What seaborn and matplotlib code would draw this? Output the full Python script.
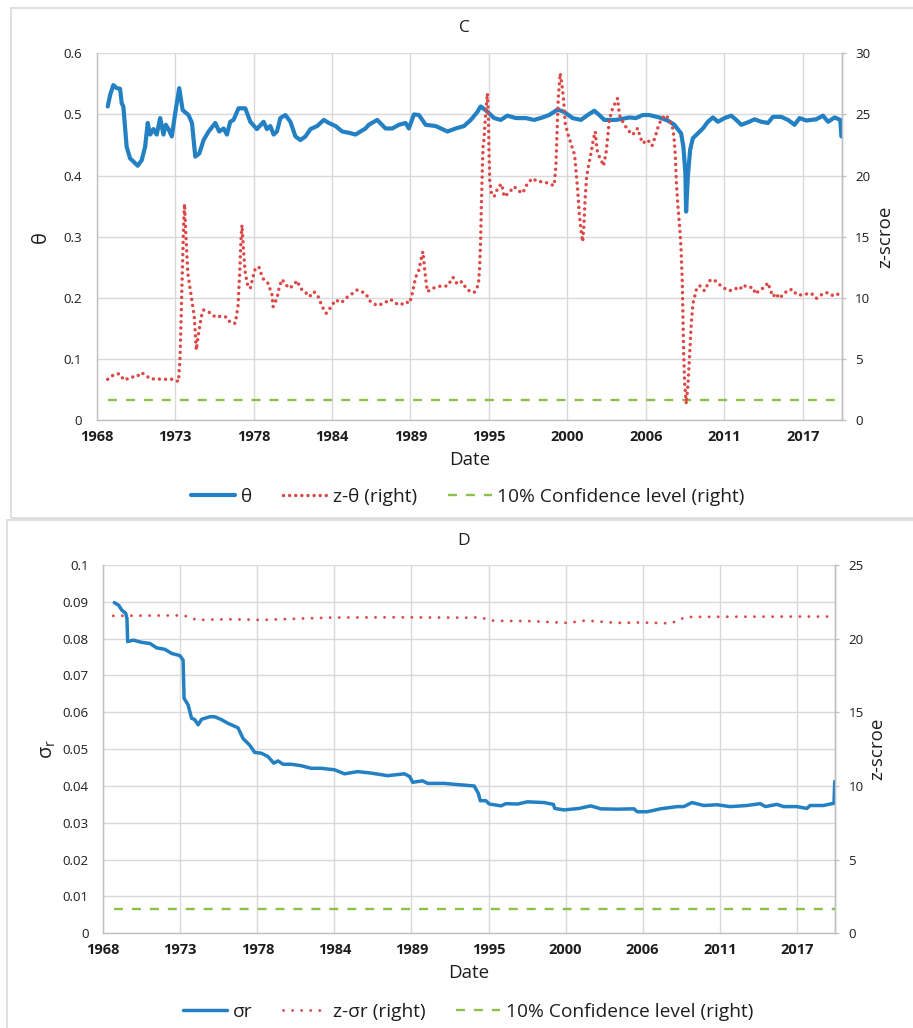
import numpy as np
import pandas as pd
import matplotlib
matplotlib.use("Agg")
import matplotlib.pyplot as plt
from matplotlib.patches import Rectangle
import seaborn as sns

# ---------------- data (decimal years) ----------------
theta_year = [1968.77, 1968.94, 1969.16, 1969.40, 1969.63, 1969.75, 1969.86, 1970.09, 1970.33, 1970.56,
              1970.86, 1971.14, 1971.38, 1971.56, 1971.73, 1971.96, 1972.19, 1972.43, 1972.66, 1972.82,
              1973.01, 1973.24, 1973.48, 1973.76, 1974.00, 1974.41, 1974.65, 1974.88, 1975.16, 1975.46,
              1975.81, 1976.28, 1976.55, 1976.86, 1977.09, 1977.32, 1977.55, 1977.90, 1978.37, 1978.72,
              1979.18, 1979.65, 1979.88, 1980.12, 1980.35, 1980.58, 1980.82, 1981.17, 1981.52, 1981.87,
              1982.22, 1982.57, 1982.92, 1983.39, 1983.85, 1984.20, 1984.67, 1985.14, 1985.60, 1986.06,
              1986.76, 1986.99, 1987.58, 1988.16, 1988.63, 1989.09, 1989.56, 1989.79, 1990.14, 1990.49,
              1990.96, 1991.66, 1992.48, 1993.06, 1993.64, 1994.11, 1994.57, 1994.80, 1995.15, 1995.74,
              1996.20, 1996.67, 1997.25, 1997.95, 1998.53, 1999.12, 1999.58, 2000.17, 2000.63, 2001.22,
              2001.80, 2002.27, 2002.73, 2003.08, 2003.43, 2004.25, 2005.18, 2005.64, 2006.11, 2006.57,
              2007.27, 2007.86, 2008.32, 2008.79, 2008.95, 2009.09, 2009.14, 2009.26, 2009.42, 2009.61,
              2009.96, 2010.31, 2010.66, 2011.01, 2011.36, 2011.82, 2012.29, 2012.64, 2012.99, 2013.45,
              2013.92, 2014.38, 2014.85, 2015.20, 2015.78, 2016.25, 2016.71, 2017.06, 2017.53, 2018.22,
              2018.69, 2019.05, 2019.51, 2019.90, 2019.98]
theta_val = [0.513, 0.532, 0.548, 0.543, 0.542, 0.518, 0.513, 0.447, 0.428, 0.423,
             0.416, 0.425, 0.447, 0.486, 0.467, 0.476, 0.467, 0.494, 0.467, 0.483,
             0.476, 0.464, 0.502, 0.543, 0.507, 0.499, 0.486, 0.431, 0.436, 0.458,
             0.472, 0.486, 0.472, 0.477, 0.467, 0.488, 0.491, 0.510, 0.510, 0.488,
             0.476, 0.488, 0.476, 0.481, 0.467, 0.472, 0.494, 0.499, 0.488, 0.464,
             0.458, 0.464, 0.476, 0.481, 0.491, 0.486, 0.481, 0.472, 0.470, 0.467,
             0.477, 0.483, 0.491, 0.477, 0.477, 0.483, 0.486, 0.477, 0.500, 0.499,
             0.483, 0.481, 0.472, 0.477, 0.481, 0.491, 0.504, 0.513, 0.507, 0.494,
             0.491, 0.498, 0.494, 0.494, 0.491, 0.495, 0.499, 0.508, 0.504, 0.494,
             0.491, 0.499, 0.506, 0.499, 0.491, 0.491, 0.495, 0.494, 0.499, 0.499,
             0.495, 0.490, 0.483, 0.469, 0.447, 0.404, 0.341, 0.398, 0.442, 0.461,
             0.469, 0.477, 0.488, 0.495, 0.488, 0.494, 0.498, 0.491, 0.483, 0.487,
             0.492, 0.488, 0.486, 0.496, 0.496, 0.491, 0.483, 0.494, 0.490, 0.492,
             0.498, 0.488, 0.495, 0.491, 0.464]

ztheta_year = [1968.77, 1969.16, 1969.56, 1969.93, 1970.40, 1970.79, 1971.10, 1971.42, 1971.73, 1972.19,
               1972.66, 1973.36, 1973.71, 1973.82, 1973.94, 1974.06, 1974.13, 1974.22, 1974.36, 1974.60,
               1974.81, 1974.95, 1975.11, 1975.30, 1975.46, 1976.00, 1976.28, 1976.74, 1977.09, 1977.32,
               1977.67, 1977.86, 1977.98, 1978.07, 1978.14, 1978.26, 1978.37, 1978.56, 1978.72, 1979.03,
               1979.31, 1979.59, 1979.96, 1980.24, 1980.31, 1980.58, 1980.75, 1980.94, 1981.21, 1981.45,
               1981.75, 1981.99, 1982.22, 1982.53, 1982.85, 1983.16, 1983.46, 1983.74, 1984.02, 1984.20,
               1984.44, 1984.67, 1985.09, 1985.37, 1985.71, 1986.18, 1986.76, 1987.11, 1987.58, 1988.04,
               1988.51, 1988.86, 1989.21, 1989.56, 1989.84, 1990.03, 1990.26, 1990.49, 1990.68, 1990.77,
               1990.87, 1990.96, 1991.08, 1991.43, 1992.01, 1992.48, 1992.87, 1993.17, 1993.48, 1993.87,
               1994.34, 1994.64, 1994.73, 1994.80, 1994.85, 1994.92, 1994.97, 1995.03, 1995.15, 1995.27,
               1995.34, 1995.39, 1995.43, 1995.55, 1995.74, 1996.04, 1996.27, 1996.44, 1996.74, 1997.14,
               1997.37, 1997.72, 1998.07, 1998.42, 1998.77, 1999.23, 1999.58, 1999.93, 2000.05, 2000.13,
               2000.21, 2000.35, 2000.46, 2000.59, 2000.70, 2000.87, 2001.17, 2001.36, 2001.45, 2001.57,
               2001.68, 2001.80, 2001.92, 2002.00, 2002.10, 2002.20, 2002.34, 2002.50, 2002.66, 2002.80,
               2002.92, 2003.08, 2003.21, 2003.37, 2003.55, 2003.67, 2003.78, 2004.01, 2004.25, 2004.36,
               2004.48, 2004.71, 2005.06, 2005.41, 2005.76, 2005.92, 2006.11, 2006.46, 2006.76, 2006.99,
               2007.23, 2007.46, 2007.74, 2007.93, 2008.16, 2008.29, 2008.39, 2008.45, 2008.57, 2008.67,
               2008.78, 2008.87, 2008.92, 2008.97, 2009.04, 2009.15, 2009.26, 2009.38, 2009.50, 2009.62,
               2009.85, 2010.08, 2010.42, 2010.78, 2011.06, 2011.50, 2011.82, 2012.17, 2012.59, 2012.87,
               2013.10, 2013.45, 2013.80, 2013.99, 2014.27, 2014.62, 2014.85, 2015.01, 2015.20, 2015.43,
               2015.62, 2015.90, 2016.25, 2016.60, 2016.83, 2017.18, 2017.48, 2017.88, 2018.22, 2018.45,
               2018.69, 2019.04, 2019.44, 2019.75, 2019.98]
ztheta_val = [3.33, 3.68, 3.79, 3.25, 3.52, 3.52, 3.88, 3.68, 3.36, 3.36,
              3.33, 3.33, 3.14, 5.18, 10.37, 15.82, 17.68, 15.28, 12.00, 10.09,
              8.46, 5.73, 7.09, 8.46, 9.00, 8.73, 8.40, 8.51, 8.40, 7.97,
              7.91, 9.27, 12.00, 14.73, 15.96, 13.64, 12.00, 10.91, 10.77, 12.27,
              12.55, 11.59, 11.18, 10.23, 9.27, 9.95, 10.91, 11.50, 11.05, 10.77,
              11.05, 11.40, 10.77, 10.50, 10.09, 10.50, 10.09, 9.27, 8.73, 9.00,
              9.41, 9.82, 9.60, 9.95, 10.23, 10.64, 10.37, 9.68, 9.36, 9.55,
              9.87, 9.55, 9.41, 9.68, 9.55, 10.37, 11.67, 12.27, 13.37, 13.78,
              12.55, 11.59, 10.50, 10.77, 10.96, 10.96, 11.67, 11.12, 11.32, 10.64,
              10.42, 11.05, 12.55, 14.73, 17.46, 20.73, 22.37, 22.92, 25.10, 26.73,
              24.83, 21.55, 19.64, 18.55, 18.27, 19.09, 19.31, 18.27, 18.55, 19.09,
              18.82, 18.55, 19.36, 19.77, 19.50, 19.50, 19.31, 19.18, 20.73, 23.46,
              26.19, 28.37, 27.55, 26.19, 24.29, 23.46, 22.37, 21.68, 20.46, 18.82,
              16.91, 15.55, 14.59, 15.82, 18.27, 19.91, 20.87, 21.82, 22.92, 23.60,
              22.10, 21.55, 21.27, 20.79, 21.82, 23.19, 24.56, 25.50, 26.05, 26.32,
              24.96, 24.42, 23.74, 23.33, 23.87, 23.19, 22.64, 22.92, 22.43, 23.19,
              24.15, 24.69, 24.96, 24.56, 24.15, 23.19, 21.55, 19.64, 17.46, 16.09,
              14.18, 11.46, 8.46, 5.46, 3.00, 1.31, 2.73, 5.18, 7.91, 9.55,
              10.64, 11.00, 10.57, 11.40, 11.50, 11.05, 10.77, 10.57, 10.77, 10.64,
              11.05, 10.85, 10.85, 10.30, 10.64, 10.85, 11.23, 10.68, 10.09, 10.37,
              9.95, 10.23, 10.64, 10.68, 10.27, 10.23, 10.30, 10.37, 9.95, 10.09,
              10.37, 10.42, 10.14, 10.30, 10.57]

sigma_year = [1968.78, 1969.11, 1969.30, 1969.59, 1969.68, 1969.73, 1970.13, 1970.72, 1971.31, 1971.79,
              1972.38, 1972.85, 1973.44, 1973.67, 1973.74, 1974.03, 1974.27, 1974.50, 1974.74, 1974.98,
              1975.57, 1975.92, 1976.40, 1976.87, 1977.57, 1977.93, 1978.40, 1978.76, 1979.23, 1979.70,
              1980.11, 1980.42, 1980.77, 1981.36, 1982.07, 1982.78, 1983.49, 1984.43, 1985.14, 1986.08,
              1987.03, 1988.21, 1989.40, 1989.76, 1989.99, 1990.70, 1991.05, 1992.23, 1993.42, 1994.36,
              1994.65, 1994.79, 1995.19, 1995.43, 1996.26, 1996.61, 1997.44, 1998.14, 1999.33, 1999.99,
              2000.08, 2000.75, 2001.81, 2002.64, 2003.35, 2004.53, 2005.71, 2005.95, 2006.65, 2007.60,
              2008.78, 2009.25, 2009.84, 2010.67, 2011.61, 2012.56, 2013.74, 2014.69, 2015.05, 2015.87,
              2016.35, 2017.29, 2018.00, 2018.23, 2019.18, 2019.66, 2019.93, 2019.98]
sigma_val = [0.0898, 0.0890, 0.0878, 0.0869, 0.0855, 0.0792, 0.0796, 0.0790, 0.0787, 0.0775,
             0.0771, 0.0760, 0.0754, 0.0742, 0.0638, 0.0620, 0.0584, 0.0580, 0.0566, 0.0581,
             0.0588, 0.0588, 0.0580, 0.0570, 0.0558, 0.0529, 0.0511, 0.0491, 0.0489, 0.0480,
             0.0462, 0.0468, 0.0459, 0.0459, 0.0455, 0.0448, 0.0448, 0.0444, 0.0433, 0.0439,
             0.0435, 0.0428, 0.0433, 0.0426, 0.0410, 0.0414, 0.0407, 0.0407, 0.0403, 0.0400,
             0.0380, 0.0360, 0.0360, 0.0351, 0.0346, 0.0352, 0.0351, 0.0357, 0.0355, 0.0350,
             0.0339, 0.0335, 0.0339, 0.0346, 0.0338, 0.0337, 0.0338, 0.0330, 0.0330, 0.0338,
             0.0344, 0.0344, 0.0355, 0.0347, 0.0349, 0.0344, 0.0347, 0.0352, 0.0344, 0.0350,
             0.0344, 0.0344, 0.0339, 0.0347, 0.0347, 0.0351, 0.0353, 0.0412]

zsigma_year = [1968.71, 1973.67, 1974.15, 1974.62, 1976.87, 1979.23, 1981.60, 1984.20, 1988.69, 1994.13,
               1994.60, 1995.19, 1995.78, 1998.38, 2000.98, 2002.28, 2004.52, 2006.18, 2008.31, 2008.78,
               2009.37, 2012.57, 2017.29, 2019.98]
zsigma_val = [21.55, 21.58, 21.45, 21.27, 21.32, 21.27, 21.35, 21.43, 21.45, 21.42,
              21.45, 21.35, 21.21, 21.19, 21.07, 21.23, 21.07, 21.10, 21.04, 21.20,
              21.47, 21.49, 21.50, 21.50]

conf_year = [1968.77, 2019.98]
conf_val = [1.645, 1.645]

x_tick_labels = ["1968", "1973", "1978", "1984", "1989", "1995", "2000", "2006", "2011", "2017"]
theta_ticks = [0, 0.1, 0.2, 0.3, 0.4, 0.5, 0.6]
theta_tick_labels = ["0", "0.1", "0.2", "0.3", "0.4", "0.5", "0.6"]
sigma_ticks = [0, 0.01, 0.02, 0.03, 0.04, 0.05, 0.06, 0.07, 0.08, 0.09, 0.1]
sigma_tick_labels = ["0", "0.01", "0.02", "0.03", "0.04", "0.05", "0.06", "0.07", "0.08", "0.09", "0.1"]
zC_ticks = [0, 5, 10, 15, 20, 25, 30]
zD_ticks = [0, 5, 10, 15, 20, 25]

# ---------------- style ----------------
sns.set_theme(style="white")
plt.rcParams['font.family'] = ['Open Sans', 'DejaVu Sans']
plt.rcParams['mathtext.fontset'] = 'custom'
plt.rcParams['mathtext.rm'] = 'Open Sans'
plt.rcParams['mathtext.it'] = 'Open Sans'

BLUE = "#2380C3"
RED = "#DC4848"
GREEN = "#8DC04B"
GRID = "#D9D9D9"
SPINE = "#BFBFBF"
TXT = "#1E1E1E"

W, H = 913, 1028
fig = plt.figure(figsize=(W / 100, H / 100), dpi=100)

# panel frames
fig.patches.append(Rectangle((11 / W, 1 - 518 / H), 1.0, 510 / H, transform=fig.transFigure,
                             fill=False, edgecolor=GRID, lw=1.2))
fig.patches.append(Rectangle((7 / W, -0.01), 1.0, 1 - 520 / H + 0.01, transform=fig.transFigure,
                             fill=False, edgecolor=GRID, lw=1.2))

x0 = 1968.0
step = 2000 / 365.25
xticks = [x0 + i * step for i in range(len(x_tick_labels))]
xlim = (1968.0, 2020.0)


def make_panel(px_left, px_right, px_top, px_bottom, main_x, main_y, main_lim, main_ticks, main_labels,
               z_x, z_y, z_lim, z_ticks, main_lw, dot_lw, dot_gap, main_label, title, title_y,
               legend_labels, legend_y):
    ax = fig.add_axes([px_left / W, 1 - px_bottom / H, (px_right - px_left) / W, (px_bottom - px_top) / H])
    axr = ax.twinx()

    sns.lineplot(x=main_x, y=main_y, ax=ax, color=BLUE, linewidth=main_lw, legend=False,
                 solid_joinstyle='round', solid_capstyle='round', zorder=3)
    sns.lineplot(x=z_x, y=z_y, ax=axr, color=RED, linewidth=dot_lw, legend=False,
                 linestyle=(0, (0.01, dot_gap)), dash_capstyle='round', zorder=3)
    sns.lineplot(x=conf_year, y=conf_val, ax=axr, color=GREEN, linewidth=1.7, legend=False,
                 linestyle=(0, (3.8, 3.8)), zorder=2)

    ax.set_xlim(*xlim)
    axr.set_xlim(*xlim)
    ax.set_ylim(*main_lim)
    axr.set_ylim(*z_lim)
    ax.set_xticks(xticks)
    ax.set_xticklabels(x_tick_labels, fontsize=10.5, fontweight='bold', color=TXT)
    ax.set_yticks(main_ticks)
    ax.set_yticklabels(main_labels, fontsize=9.6, color=TXT)
    axr.set_yticks(z_ticks)
    axr.set_yticklabels([str(t) for t in z_ticks], fontsize=9.6, color=TXT)

    ax.grid(True, color=GRID, linewidth=1.0)
    ax.set_axisbelow(True)
    ax.tick_params(axis='x', length=0, pad=7)
    ax.tick_params(axis='y', length=0, pad=10.5)
    axr.tick_params(axis='y', length=3.2, width=0.9, color=SPINE, pad=6.5, direction='out', right=True)

    for a in (ax, axr):
        a.spines['top'].set_visible(False)
        for s in ('left', 'bottom', 'right'):
            a.spines[s].set_color(SPINE)
            a.spines[s].set_linewidth(1.0)
    axr.spines['left'].set_visible(False)
    axr.spines['bottom'].set_visible(False)

    ax.set_xlabel("Date", fontsize=13.5, color=TXT)
    ax.xaxis.set_label_coords(0.5, -0.108)
    ax.xaxis.label.set_va('center')
    ax.set_ylabel(main_label, fontsize=14.5, color=TXT, rotation=90)
    ax.yaxis.set_label_coords(-0.075, 0.5)
    ax.yaxis.label.set_va('center')
    axr.set_ylabel("z-scroe", fontsize=13.5, color=TXT, rotation=90)
    axr.yaxis.set_label_coords(1.058, 0.5)
    axr.yaxis.label.set_va('center')

    fig.text(464 / W, 1 - title_y / H, title, ha='center', va='center', fontsize=12.5, color=TXT)

    handles = [ax.lines[0], axr.lines[0], axr.lines[1]]
    fig.legend(handles, legend_labels, loc='center', bbox_to_anchor=(468 / W, 1 - legend_y / H),
               ncol=3, frameon=False, fontsize=13.8, handlelength=2.3, handletextpad=0.3,
               columnspacing=1.6, labelcolor=TXT)
    return ax, axr


make_panel(96.7, 841.7, 53.3, 420.0, theta_year, theta_val, (0, 0.6), theta_ticks, theta_tick_labels,
           ztheta_year, ztheta_val, (0, 30), zC_ticks, 3.0, 2.5, 1.75, "θ", "C", 28,
           ["θ", "z-θ (right)", "10% Confidence level (right)"], 497)

make_panel(103.3, 835.0, 565.0, 933.3, sigma_year, sigma_val, (0, 0.1), sigma_ticks, sigma_tick_labels,
           zsigma_year, zsigma_val, (0, 25), zD_ticks, 2.5, 2.1, 3.1, r"σ$_{\mathrm{r}}$", "D", 541,
           ["σr", "z-σr (right)", "10% Confidence level (right)"], 1012)

fig.savefig("out.png", dpi=100)
